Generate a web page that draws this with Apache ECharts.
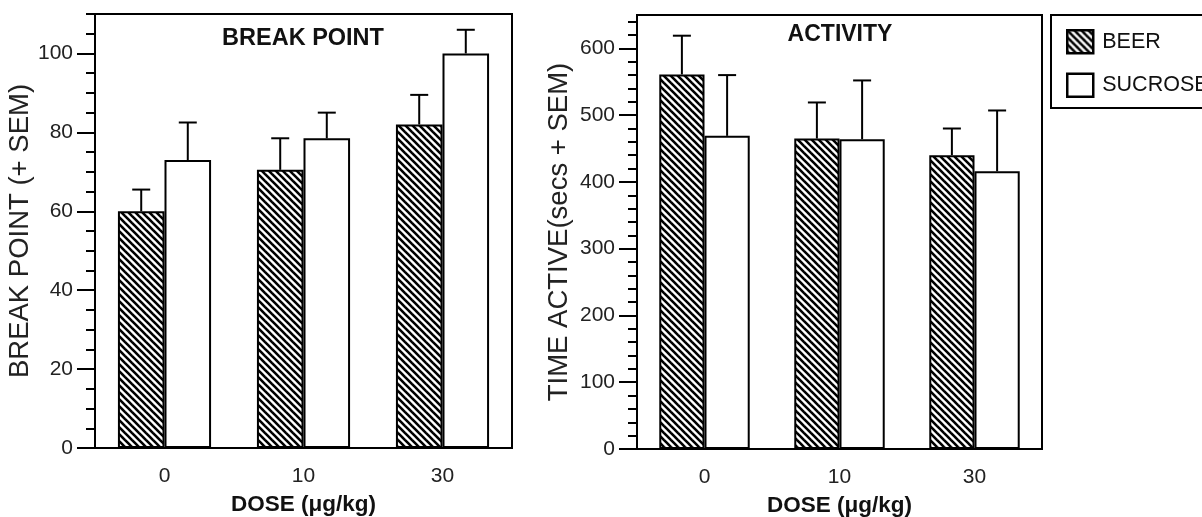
<!DOCTYPE html>
<html>
<head>
<meta charset="utf-8">
<script src="https://cdn.jsdelivr.net/npm/echarts@6/dist/echarts.min.js"></script>
<style>
    html, body { margin: 0; padding: 0; background: #fff; }
    #main { width: 1202px; height: 517px; }
</style>
</head>
<body>
<div id="main"></div>
<script>
var doses = ['0', '10', '30'];

// left panel: break point, bar value and top of the SEM whisker
var bpBeer = [60, 70.5, 82];
var bpBeerTop = [65.5, 78.5, 89.5];
var bpSucrose = [73, 78.5, 100];
var bpSucroseTop = [82.5, 85, 106];
var bpLabels = [0, 20, 40, 60, 80, 100];

// right panel: time active (secs)
var actBeer = [561, 465, 440];
var actBeerTop = [619, 519, 480];
var actSucrose = [469, 464, 416];
var actSucroseTop = [560, 552, 507];
var actLabels = [0, 100, 200, 300, 400, 500, 600];

var FONT = '"Liberation Sans", Arial, sans-serif';

function steps(from, to, step) {
    var out = [];
    for (var v = from; v <= to; v += step) out.push(v);
    return out;
}

// diagonal hatch fill for the beer bars
function hatch() {
    var s = 7;
    var c = document.createElement('canvas');
    c.width = s; c.height = s;
    var ctx = c.getContext('2d');
    ctx.fillStyle = '#fff';
    ctx.fillRect(0, 0, s, s);
    ctx.strokeStyle = '#000';
    ctx.lineWidth = 2.6;
    [-s, 0, s].forEach(function (k) {
        ctx.beginPath();
        ctx.moveTo(k - 1, -1);
        ctx.lineTo(k + s + 1, s + 1);
        ctx.stroke();
    });
    return { image: c, repeat: 'repeat' };
}
var hatchFill = hatch();

function yAxes(grid, max, labels, minor, name, gap) {
    return [{
        gridIndex: grid, type: 'value', min: 0, max: max, position: 'left',
        axisLine: { show: true, lineStyle: { color: '#000', width: 2 } },
        axisTick: { show: true, length: 18, customValues: labels, lineStyle: { color: '#000', width: 2 } },
        axisLabel: { customValues: labels, margin: 22, fontSize: 21, color: '#222', fontFamily: FONT },
        splitLine: { show: false },
        name: name, nameLocation: 'middle', nameGap: gap,
        nameTextStyle: { fontSize: 27.5, color: '#222', fontFamily: FONT }
    }, {
        gridIndex: grid, type: 'value', min: 0, max: max, position: 'left',
        axisLine: { show: false },
        axisTick: { show: true, length: 9, customValues: minor, lineStyle: { color: '#000', width: 2 } },
        axisLabel: { show: false },
        splitLine: { show: false }
    }];
}

function xAxis(grid) {
    return {
        gridIndex: grid, type: 'category', data: doses,
        axisLine: { lineStyle: { color: '#000', width: 2 } },
        axisTick: { length: 17, lineStyle: { color: '#000', width: 2 } },
        axisLabel: { fontSize: 21, color: '#222', margin: 18, fontFamily: FONT },
        name: 'DOSE (μg/kg)', nameLocation: 'middle', nameGap: 45,
        nameTextStyle: { fontSize: 22.5, fontWeight: 'bold', color: '#111', fontFamily: FONT }
    };
}

function bars(name, vals, fill, xi, yi) {
    return {
        name: name, type: 'bar', xAxisIndex: xi, yAxisIndex: yi, data: vals,
        barGap: '0%', barCategoryGap: '33%', silent: true,
        itemStyle: { color: fill, borderColor: '#000', borderWidth: 2 }
    };
}

// SEM whiskers: vertical line from the bar top plus a small cap
function whiskers(vals, tops, side, xi, yi) {
    return {
        type: 'custom', xAxisIndex: xi, yAxisIndex: yi, silent: true, z: 3,
        data: tops.map(function (t, i) { return [i, vals[i], t]; }),
        renderItem: function (params, api) {
            var band = api.size([1, 0])[0];
            var barW = band * 0.67 / 2;
            var base = api.coord([api.value(0), api.value(1)]);
            var top = api.coord([api.value(0), api.value(2)]);
            var x = base[0] + side * barW / 2;
            var st = { stroke: '#000', lineWidth: 2 };
            return {
                type: 'group', children: [
                    { type: 'line', shape: { x1: x, y1: base[1], x2: x, y2: top[1] }, style: st },
                    { type: 'line', shape: { x1: x - 9, y1: top[1], x2: x + 9, y2: top[1] }, style: st }
                ]
            };
        }
    };
}

var myChart = echarts.init(document.getElementById('main'));
myChart.setOption({
    animation: false,
    backgroundColor: '#fff',
    title: [
        { text: 'BREAK POINT', left: 303, top: 27, textAlign: 'center', padding: 0,
          textStyle: { fontSize: 23.5, fontWeight: 'bold', color: '#111', fontFamily: FONT } },
        { text: 'ACTIVITY', left: 840, top: 23, textAlign: 'center', padding: 0,
          textStyle: { fontSize: 23, fontWeight: 'bold', color: '#111', fontFamily: FONT } }
    ],
    legend: {
        data: ['BEER', 'SUCROSE'], orient: 'vertical', left: 1051, top: 15,
        padding: [14, 30, 10, 15], itemWidth: 26, itemHeight: 23, itemGap: 18,
        borderColor: '#000', borderWidth: 2, icon: 'rect', selectedMode: false,
        itemStyle: { borderColor: '#000', borderWidth: 2.5 },
        textStyle: { fontSize: 21.5, color: '#111', padding: [2, 0, 0, 4], fontFamily: FONT }
    },
    grid: [
        { left: 95, right: 690, top: 14, bottom: 69, show: true, borderColor: '#000', borderWidth: 2,
          outerBoundsMode: 'none' },
        { left: 637, right: 160, top: 15, bottom: 68, show: true, borderColor: '#000', borderWidth: 2,
          outerBoundsMode: 'none' }
    ],
    xAxis: [xAxis(0), xAxis(1)],
    yAxis: yAxes(0, 110, bpLabels, steps(0, 110, 5), 'BREAK POINT (+ SEM)', 57)
        .concat(yAxes(1, 650, actLabels, steps(0, 640, 20), 'TIME ACTIVE(secs + SEM)', 64)),
    series: [
        bars('BEER', bpBeer, hatchFill, 0, 0),
        bars('SUCROSE', bpSucrose, '#fff', 0, 0),
        whiskers(bpBeer, bpBeerTop, -1, 0, 0),
        whiskers(bpSucrose, bpSucroseTop, 1, 0, 0),
        bars('BEER', actBeer, hatchFill, 1, 2),
        bars('SUCROSE', actSucrose, '#fff', 1, 2),
        whiskers(actBeer, actBeerTop, -1, 1, 2),
        whiskers(actSucrose, actSucroseTop, 1, 1, 2)
    ]
});
</script>
</body>
</html>
